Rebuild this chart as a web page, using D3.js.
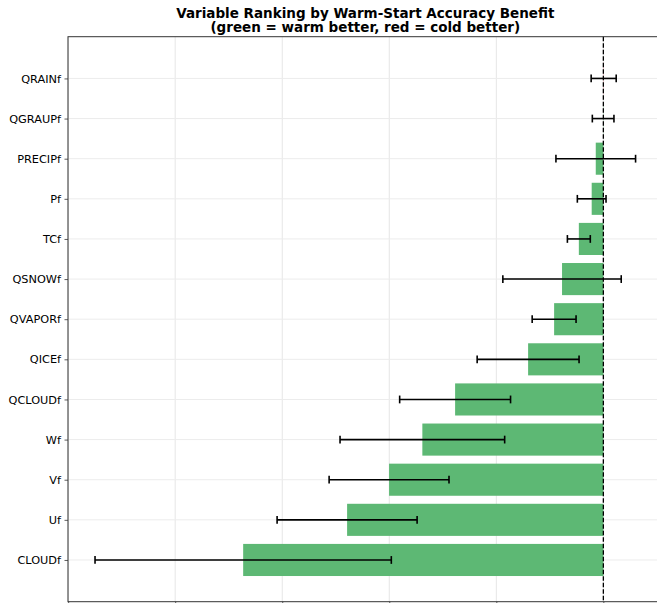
<!DOCTYPE html>
<html>
<head>
<meta charset="utf-8">
<script src="https://cdn.jsdelivr.net/npm/d3@7"></script>
<style>
  html, body { margin: 0; padding: 0; background: #fff; overflow: hidden; }
  svg { display: block; font-family: "DejaVu Sans", sans-serif; }
</style>
</head>
<body>
<svg id="chart" width="657" height="603"></svg>
<script>
// variables, top row first
const categories = ['QRAINf', 'QGRAUPf', 'PRECIPf', 'Pf', 'TCf', 'QSNOWf', 'QVAPORf',
                    'QICEf', 'QCLOUDf', 'Wf', 'Vf', 'Uf', 'CLOUDf'];
// accuracy benefit (negative = warm better)
const benefit = [0.003, -0.002, -0.071, -0.109, -0.229, -0.386, -0.460,
                 -0.703, -1.385, -1.691, -2.002, -2.394, -3.365];
const benefitErr = [0.117, 0.101, 0.372, 0.134, 0.107, 0.553, 0.205,
                    0.476, 0.518, 0.769, 0.560, 0.654, 1.384];
const xTicks = [-5, -4, -3, -2, -1, 0];

const svg = d3.select('#chart');
const margin = { top: 36.7, left: 68, right: 662.6, bottom: 601.7 };

// matplotlib-like autoscale with 5% padding
const lo = d3.min(benefit, (d, i) => d - benefitErr[i]);
const hi = d3.max(benefit, (d, i) => d + benefitErr[i]);
const pad = (hi - lo) * 0.05;

const x = d3.scaleLinear()
    .domain([lo - pad, hi + pad])
    .range([margin.left, margin.right]);

// bottom bar (last category) sits at 0
const n = categories.length;
const y = d3.scaleLinear()
    .domain([-1.04, n - 1 + 1.04])
    .range([margin.bottom, margin.top]);
const rowPos = i => y(n - 1 - i);
const barH = y(0) - y(0.8);

// grid
svg.append('g')
    .selectAll('line.vg')
    .data(xTicks)
    .enter().append('line')
    .attr('x1', d => x(d)).attr('x2', d => x(d))
    .attr('y1', margin.top).attr('y2', margin.bottom)
    .attr('stroke', '#e6e6e6').attr('stroke-width', 1);

svg.append('g')
    .selectAll('line.hg')
    .data(categories)
    .enter().append('line')
    .attr('x1', margin.left).attr('x2', margin.right)
    .attr('y1', (d, i) => rowPos(i)).attr('y2', (d, i) => rowPos(i))
    .attr('stroke', '#ececec').attr('stroke-width', 1);

// bars
svg.append('g')
    .selectAll('rect')
    .data(benefit)
    .enter().append('rect')
    .attr('x', d => Math.min(x(d), x(0)))
    .attr('width', d => Math.abs(x(d) - x(0)))
    .attr('y', (d, i) => rowPos(i) - barH / 2)
    .attr('height', barH)
    .attr('fill', d => d < 0 ? '#5db874' : '#e8838a');

// zero reference line
svg.append('line')
    .attr('x1', x(0)).attr('x2', x(0))
    .attr('y1', margin.top).attr('y2', margin.bottom)
    .attr('stroke', '#000')
    .attr('stroke-width', 1.3)
    .attr('stroke-dasharray', '4.5,2');

// error bars
const eb = svg.append('g')
    .selectAll('g')
    .data(benefit)
    .enter().append('g');

eb.append('line')
    .attr('x1', (d, i) => x(d - benefitErr[i]))
    .attr('x2', (d, i) => x(d + benefitErr[i]))
    .attr('y1', (d, i) => rowPos(i)).attr('y2', (d, i) => rowPos(i))
    .attr('stroke', '#000').attr('stroke-width', 1.6);

[-1, 1].forEach(s => {
    eb.append('line')
        .attr('x1', (d, i) => x(d + s * benefitErr[i]))
        .attr('x2', (d, i) => x(d + s * benefitErr[i]))
        .attr('y1', (d, i) => rowPos(i) - 3.9)
        .attr('y2', (d, i) => rowPos(i) + 3.9)
        .attr('stroke', '#000').attr('stroke-width', 1.6);
});

// axes
const yAxis = d3.axisLeft(y)
    .tickValues(d3.range(n))
    .tickFormat(i => categories[n - 1 - i])
    .tickSize(3.5)
    .tickPadding(3.5);

const yg = svg.append('g')
    .attr('transform', `translate(${margin.left},0)`)
    .call(yAxis);
yg.select('.domain').remove();
yg.selectAll('text')
    .attr('font-size', 11.3)
    .attr('font-family', '"DejaVu Sans", sans-serif')
    .attr('fill', '#000');
yg.selectAll('line').attr('stroke', '#333').attr('stroke-width', 0.8);

const xg = svg.append('g')
    .attr('transform', `translate(0,${margin.bottom})`)
    .call(d3.axisBottom(x).tickValues(xTicks).tickFormat('').tickSize(3.5));
xg.select('.domain').remove();
xg.selectAll('line').attr('stroke', '#333').attr('stroke-width', 0.8);

// spines
svg.append('rect')
    .attr('x', margin.left).attr('y', margin.top)
    .attr('width', margin.right - margin.left)
    .attr('height', margin.bottom - margin.top)
    .attr('fill', 'none')
    .attr('stroke', '#333')
    .attr('stroke-width', 1);

// title
const cx = (margin.left + margin.right) / 2;
const title = svg.append('text')
    .attr('text-anchor', 'middle')
    .attr('font-size', 13.5)
    .attr('font-weight', 'bold')
    .attr('fill', '#000');
title.append('tspan').attr('x', cx).attr('y', 17.5)
    .text('Variable Ranking by Warm-Start Accuracy Benefit');
title.append('tspan').attr('x', cx).attr('y', 32)
    .text('(green = warm better, red = cold better)');
</script>
</body>
</html>
